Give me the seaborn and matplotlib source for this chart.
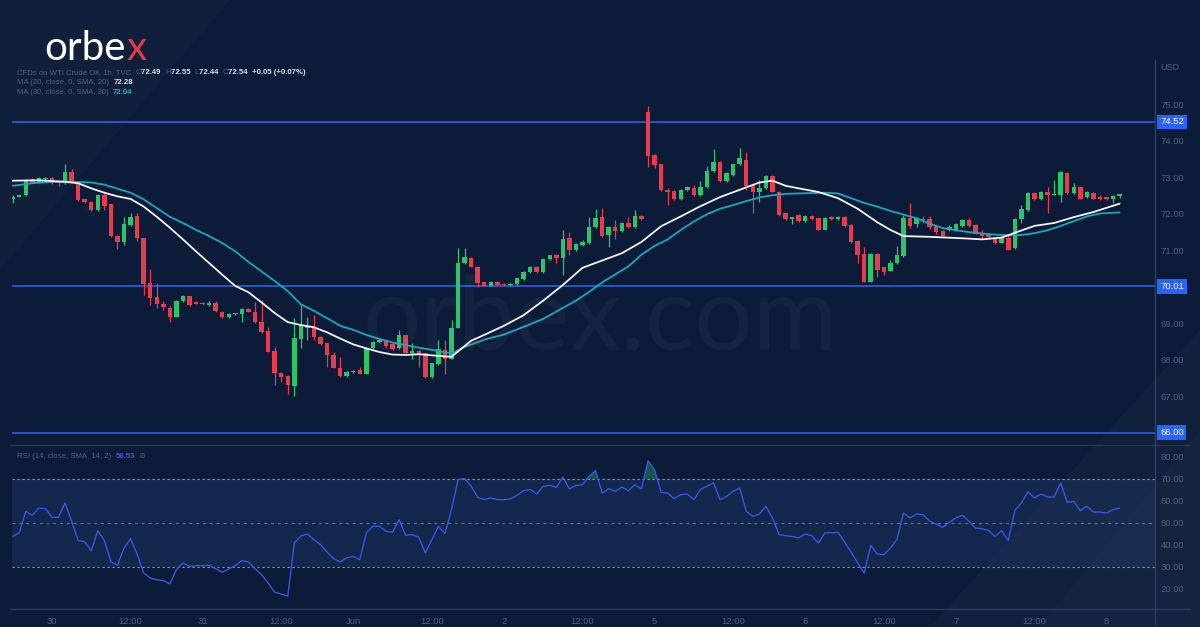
import numpy as np
import pandas as pd
import matplotlib.pyplot as plt
import matplotlib.transforms as mtransforms
from matplotlib.lines import Line2D
from matplotlib.patches import Polygon
import seaborn as sns

# Hourly candles, WTI crude oil CFD (TVC), 30 May - 8 Jun
opens = [72.42, 72.47, 72.52, 72.95, 72.87, 72.95, 72.99, 72.87, 72.84, 73.16,
         72.86, 72.40, 72.33, 72.10, 72.51, 72.26, 71.39, 71.22, 71.70, 71.94,
         71.33, 70.09, 69.71, 69.54, 69.43, 69.18, 69.61, 69.74, 69.58, 69.56,
         69.49, 69.56, 69.31, 69.16, 69.25, 69.25, 69.38, 69.32, 69.04, 68.79,
         68.23, 67.64, 67.55, 67.28, 68.58, 68.86, 68.90, 68.63, 68.45, 68.13,
         67.78, 67.55, 67.66, 67.71, 67.62, 68.31, 68.49, 68.53, 68.44, 68.31,
         68.67, 68.17, 68.23, 68.17, 67.53, 67.88, 68.26, 68.03, 68.88, 70.64,
         70.80, 70.55, 70.12, 70.03, 70.13, 70.08, 70.06, 70.08, 70.21, 70.40,
         70.53, 70.41, 70.75, 70.87, 70.80, 71.33, 71.01, 71.14, 71.19, 71.63,
         71.90, 71.42, 71.65, 71.53, 71.74, 71.63, 71.94, 74.80, 73.61, 73.36,
         72.65, 72.63, 72.40, 72.65, 72.72, 72.51, 72.74, 73.18, 73.42, 72.90,
         73.06, 73.36, 73.49, 72.79, 72.60, 72.70, 73.04, 72.61, 72.01, 71.85,
         71.97, 71.81, 71.94, 71.88, 71.57, 71.92, 71.86, 71.92, 71.69, 71.26,
         70.90, 70.14, 70.91, 70.53, 70.44, 70.64, 70.84, 71.89, 71.72, 71.87,
         71.85, 71.67, 71.54, 71.56, 71.56, 71.67, 71.83, 71.69, 71.46, 71.42,
         71.35, 71.21, 71.35, 71.05, 71.87, 72.10, 72.58, 72.40, 72.61, 72.53,
         72.52, 73.13, 72.56, 72.73, 72.45, 72.58, 72.47, 72.45, 72.40, 72.49]
highs = [72.52, 72.53, 72.95, 72.97, 73.00, 73.01, 73.01, 72.89, 73.37, 73.23,
         72.90, 72.42, 72.35, 72.55, 72.56, 72.28, 71.42, 71.92, 72.03, 72.01,
         71.35, 70.48, 70.09, 69.60, 69.46, 69.63, 69.77, 69.76, 69.60, 69.58,
         69.60, 69.60, 69.33, 69.27, 69.29, 69.42, 69.41, 69.59, 69.65, 68.90,
         68.35, 67.66, 67.57, 69.13, 69.50, 69.18, 69.22, 68.66, 68.47, 68.22,
         68.08, 67.69, 67.72, 67.80, 68.33, 68.51, 68.57, 68.58, 68.46, 68.81,
         68.69, 68.45, 68.26, 68.19, 67.92, 68.54, 68.54, 69.09, 71.05, 71.05,
         70.83, 70.57, 70.14, 70.16, 70.15, 70.10, 70.11, 70.25, 70.43, 70.56,
         70.56, 70.78, 70.88, 70.89, 71.56, 71.51, 71.19, 71.28, 71.92, 72.12,
         72.15, 71.67, 71.83, 71.78, 71.92, 72.10, 71.97, 74.96, 73.63, 73.38,
         72.72, 72.65, 72.67, 72.76, 72.80, 72.90, 73.31, 73.79, 73.44, 73.15,
         73.38, 73.82, 73.70, 72.81, 72.93, 73.06, 73.06, 72.63, 72.03, 71.92,
         71.99, 71.96, 71.96, 71.90, 71.92, 71.94, 71.94, 71.94, 71.71, 71.28,
         71.10, 70.93, 70.93, 70.55, 70.74, 71.12, 71.97, 72.31, 71.91, 71.93,
         71.93, 71.69, 71.56, 71.70, 71.74, 71.85, 71.88, 71.71, 71.55, 71.46,
         71.37, 71.37, 71.46, 71.89, 72.24, 72.60, 72.60, 72.63, 72.74, 72.93,
         73.18, 73.15, 72.85, 72.75, 72.63, 72.60, 72.52, 72.47, 72.52, 72.55]
lows = [72.31, 72.45, 72.50, 72.84, 72.85, 72.94, 72.82, 72.76, 72.82, 72.84,
        72.36, 72.30, 72.08, 72.08, 72.10, 71.37, 71.03, 71.15, 71.68, 71.25,
        69.77, 69.50, 69.41, 69.37, 69.04, 69.16, 69.59, 69.48, 69.52, 69.51,
        69.47, 69.32, 69.14, 69.14, 69.23, 69.04, 69.30, 69.01, 68.73, 68.20,
        67.30, 67.39, 67.07, 67.00, 68.31, 68.54, 68.54, 68.41, 67.80, 67.76,
        67.53, 67.53, 67.64, 67.60, 67.60, 68.29, 68.47, 68.35, 68.26, 68.29,
        68.15, 68.03, 67.80, 67.51, 67.51, 67.86, 67.62, 68.01, 68.86, 70.62,
        70.53, 70.00, 70.01, 70.01, 70.04, 70.03, 70.03, 70.06, 70.19, 70.38,
        70.39, 70.39, 70.73, 70.66, 70.32, 70.87, 70.99, 71.12, 71.17, 71.61,
        71.37, 71.10, 71.30, 71.51, 71.61, 71.61, 71.83, 73.29, 73.25, 72.63,
        72.24, 72.38, 72.38, 72.63, 72.49, 72.49, 72.72, 73.16, 72.88, 72.88,
        73.04, 73.34, 72.65, 72.01, 72.33, 72.68, 72.59, 71.95, 71.83, 71.72,
        71.79, 71.79, 71.83, 71.55, 71.55, 71.84, 71.84, 71.64, 71.20, 70.64,
        70.12, 70.12, 70.27, 70.32, 70.42, 70.62, 70.82, 71.60, 71.65, 71.76,
        71.58, 71.46, 71.38, 71.52, 71.54, 71.65, 71.65, 71.44, 71.32, 71.30,
        71.16, 71.19, 71.00, 71.03, 71.74, 72.08, 72.38, 72.38, 72.01, 72.51,
        72.33, 72.54, 72.54, 72.40, 72.43, 72.40, 72.38, 72.38, 72.29, 72.44]
closes = [72.47, 72.51, 72.91, 72.86, 72.99, 72.99, 72.84, 72.84, 73.16, 72.86,
          72.38, 72.32, 72.10, 72.51, 72.22, 71.39, 71.22, 71.72, 71.92, 71.33,
          70.07, 69.68, 69.53, 69.45, 69.18, 69.61, 69.74, 69.50, 69.54, 69.53,
          69.56, 69.34, 69.16, 69.25, 69.27, 69.40, 69.32, 69.03, 68.75, 68.22,
          67.64, 67.53, 67.30, 68.60, 68.95, 68.92, 68.63, 68.43, 68.13, 67.78,
          67.55, 67.67, 67.70, 67.62, 68.31, 68.49, 68.55, 68.37, 68.28, 68.67,
          68.17, 68.24, 68.13, 67.53, 67.90, 68.28, 68.03, 68.88, 70.66, 70.82,
          70.55, 70.09, 70.03, 70.14, 70.06, 70.05, 70.08, 70.23, 70.41, 70.55,
          70.41, 70.76, 70.87, 70.80, 71.30, 71.01, 71.17, 71.22, 71.63, 71.90,
          71.39, 71.65, 71.53, 71.76, 71.63, 71.95, 71.85, 73.59, 73.34, 72.65,
          72.61, 72.40, 72.65, 72.74, 72.51, 72.74, 73.18, 73.42, 72.90, 73.13,
          73.36, 73.52, 72.76, 72.60, 72.70, 73.04, 72.61, 71.97, 71.85, 71.90,
          71.81, 71.94, 71.85, 71.57, 71.90, 71.86, 71.92, 71.66, 71.22, 70.87,
          70.14, 70.91, 70.47, 70.41, 70.64, 70.87, 71.89, 71.66, 71.89, 71.83,
          71.65, 71.51, 71.40, 71.65, 71.72, 71.83, 71.67, 71.46, 71.39, 71.36,
          71.21, 71.35, 71.02, 71.87, 72.12, 72.58, 72.40, 72.61, 72.53, 72.55,
          73.16, 72.56, 72.73, 72.42, 72.61, 72.42, 72.42, 72.40, 72.50, 72.54]

# Moving averages (bar index, value)
ma20_bars = [0, 4, 8, 10, 12, 14, 16, 18, 20, 22, 24, 26, 28, 30, 32, 34, 36, 38, 40, 42,
             44, 46, 48, 50, 52, 54, 56, 58, 60, 62, 64, 66, 67, 70, 72, 75, 78, 81, 84, 87,
             90, 93, 96, 99, 102, 105, 108, 111, 114, 116, 118, 120, 123, 126, 129, 132, 134,
             136, 140, 145, 148, 151, 153, 156, 159, 162, 165, 169]
ma20_vals = [72.91, 72.92, 72.88, 72.84, 72.70, 72.58, 72.48, 72.41, 72.20, 71.92,
             71.62, 71.30, 70.97, 70.65, 70.33, 70.02, 69.85, 69.57, 69.28, 69.03,
             68.95, 68.89, 68.75, 68.58, 68.42, 68.31, 68.21, 68.14, 68.13, 68.15,
             68.12, 68.09, 68.08, 68.52, 68.68, 68.93, 69.22, 69.62, 70.05, 70.52,
             70.72, 70.92, 71.23, 71.66, 71.93, 72.21, 72.46, 72.66, 72.86, 72.91,
             72.77, 72.70, 72.60, 72.43, 72.14, 71.77, 71.56, 71.39, 71.37, 71.33,
             71.30, 71.35, 71.48, 71.67, 71.75, 71.91, 72.05, 72.28]
ma30_bars = [0, 3, 6, 9, 12, 14, 16, 18, 20, 22, 24, 26, 28, 30, 32, 34, 36, 38, 40, 42,
             44, 46, 48, 50, 52, 54, 56, 58, 60, 62, 64, 67, 69, 72, 75, 78, 81, 84, 86, 88,
             90, 92, 94, 96, 98, 100, 102, 104, 106, 108, 110, 112, 114, 116, 118, 120, 122,
             124, 126, 128, 130, 132, 134, 136, 138, 140, 142, 144, 146, 148, 150, 152, 154,
             156, 158, 160, 162, 164, 166, 168, 169]
ma30_vals = [72.77, 72.84, 72.88, 72.88, 72.86, 72.80, 72.69, 72.58, 72.40, 72.16,
             71.92, 71.75, 71.56, 71.39, 71.20, 70.97, 70.68, 70.42, 70.16, 69.88,
             69.52, 69.34, 69.14, 68.93, 68.82, 68.68, 68.57, 68.47, 68.40, 68.33,
             68.27, 68.17, 68.35, 68.55, 68.69, 68.90, 69.12, 69.42, 69.62, 69.86,
             70.12, 70.34, 70.56, 70.88, 71.12, 71.30, 71.56, 71.79, 71.99, 72.14,
             72.24, 72.35, 72.45, 72.51, 72.55, 72.56, 72.57, 72.58, 72.56, 72.43,
             72.30, 72.20, 72.08, 71.98, 71.88, 71.73, 71.61, 71.55, 71.50, 71.46,
             71.43, 71.41, 71.42, 71.47, 71.55, 71.67, 71.80, 71.93, 72.01, 72.03, 72.04]

# RSI (14) per bar
rsi_vals = [43.9, 45.5, 55.3, 53.5, 56.8, 56.5, 52.6, 52.6, 59.1, 50.8,
            42.1, 41.4, 37.4, 46.5, 42.0, 32.3, 30.8, 38.6, 42.9, 35.9,
            27.3, 25.0, 24.2, 23.8, 22.3, 28.8, 31.8, 30.3, 30.6, 30.6,
            30.8, 29.2, 27.6, 29.1, 30.6, 32.9, 32.3, 29.2, 26.5, 22.7,
            18.6, 17.7, 16.7, 40.9, 44.1, 45.0, 42.4, 40.2, 36.8, 33.8,
            32.3, 34.1, 34.8, 33.3, 45.5, 48.5, 48.5, 46.2, 45.8, 51.5,
            44.4, 44.7, 43.5, 36.4, 42.4, 48.5, 45.2, 56.1, 69.7, 70.2,
            66.7, 61.7, 60.6, 61.4, 60.6, 60.6, 60.9, 62.6, 64.7, 65.2,
            63.2, 66.7, 67.1, 66.2, 70.8, 65.5, 67.1, 67.4, 71.2, 73.8,
            63.6, 65.6, 64.4, 66.4, 64.7, 67.4, 65.5, 78.3, 74.2, 63.9,
            63.6, 61.1, 62.9, 63.2, 60.6, 65.2, 66.7, 68.2, 60.6, 62.1,
            64.4, 65.9, 55.3, 53.0, 54.1, 57.6, 52.3, 44.7, 44.2, 43.9,
            43.2, 45.0, 44.2, 40.9, 45.5, 45.5, 45.8, 41.4, 36.8, 31.8,
            27.3, 39.7, 35.9, 35.6, 38.6, 42.4, 54.5, 52.3, 54.1, 53.8,
            50.8, 49.5, 48.0, 50.3, 52.3, 53.5, 50.8, 47.7, 47.4, 46.5,
            43.9, 46.5, 42.0, 55.6, 59.1, 64.1, 61.4, 63.2, 61.8, 61.8,
            68.2, 59.4, 59.8, 55.6, 57.6, 55.0, 55.0, 54.5, 56.1, 56.8]

level_prices = [74.52, 70.01, 66.00]
level_labels = ['74.52', '70.01', '66.00']
price_ticks = [67, 68, 69, 71, 72, 73, 74, 75]
rsi_ticks = [20, 30, 40, 50, 60, 70, 80]
tick_bars = [6, 18, 29, 41, 52, 64, 75, 87, 98, 110, 121, 133, 144, 156, 167]
tick_labels = ['30', '12:00', '31', '12:00', 'Jun', '12:00', '2', '12:00',
               '5', '12:00', '6', '12:00', '7', '12:00', '8']

df = pd.DataFrame({'Open': opens, 'High': highs, 'Low': lows, 'Close': closes, 'RSI': rsi_vals})
df['Bar'] = np.arange(len(df))
df['Up'] = df['Close'] >= df['Open']

# colours
BG = '#0c1c38'
GREEN = '#2bc46a'
RED = '#ea3a4c'
LEVEL = '#2f65f5'
GREY = '#52617c'
LINE = '#23365a'

sns.set_theme(style='dark', rc={'axes.facecolor': 'none', 'figure.facecolor': BG})
plt.rcParams['font.family'] = ['Liberation Sans', 'DejaVu Sans']

W, H = 1200, 627
fig = plt.figure(figsize=(12, 6.27), dpi=100)
fig.patch.set_facecolor(BG)

# faint decorative shapes in the background
fig.add_artist(Polygon([(0, 1), (230 / W, 1), (0, 1 - 270 / H)], closed=True,
                       transform=fig.transFigure, fc='white', alpha=0.018, ec='none', zorder=0))
fig.add_artist(Polygon([(930 / W, 0), (1, 0), (1, 1 - 330 / H)], closed=True,
                       transform=fig.transFigure, fc='white', alpha=0.022, ec='none', zorder=0))
fig.add_artist(Polygon([(1040 / W, 0), (1, 0), (1, 1 - 430 / H)], closed=True,
                       transform=fig.transFigure, fc='white', alpha=0.015, ec='none', zorder=0))

x_left, x_right = 12 / W, 1155 / W
ax = fig.add_axes([x_left, 1 - 445 / H, x_right - x_left, 385 / H])
ax2 = fig.add_axes([x_left, 1 - 609 / H, x_right - x_left, 164 / H], sharex=ax)

# watermark
fig.text(0.5, 1 - 320 / H, 'orbex.com', fontsize=74, color='white', alpha=0.035,
         ha='center', va='center', family=['Lato', 'DejaVu Sans'], zorder=0)

# candles
colors = np.where(df['Up'], GREEN, RED)
body_low = df[['Open', 'Close']].min(axis=1)
body_h = (df['Close'] - df['Open']).abs().clip(lower=0.025)
ax.vlines(df['Bar'], df['Low'], df['High'], colors=colors, lw=0.9, zorder=3)
ax.bar(df['Bar'], body_h, bottom=body_low, width=0.68, color=colors, lw=0, zorder=4)

# moving averages
sns.lineplot(x=ma30_bars, y=ma30_vals, ax=ax, color='#1ba7bb', lw=1.3, zorder=5)
sns.lineplot(x=ma20_bars, y=ma20_vals, ax=ax, color='#f3f3f5', lw=1.3, zorder=6)

# horizontal levels with price tags
tag = mtransforms.blended_transform_factory(ax.transAxes, ax.transData)
for p, lab in zip(level_prices, level_labels):
    ax.axhline(p, color=LEVEL, lw=1.1, zorder=2)
    ax.text(1.0044, p, lab, transform=tag, ha='left', va='center', color='white',
            fontsize=6.8, clip_on=False, zorder=10,
            bbox=dict(boxstyle='square,pad=0.3', fc='#2962ff', ec='none'))

ax.set_xlim(-0.1, 174.4)
ax.set_ylim(65.66, 76.22)
ax.yaxis.tick_right()
ax.set_yticks(price_ticks)
ax.set_yticklabels([f'{p:.2f}' for p in price_ticks])
ax.tick_params(axis='y', length=0, pad=4, labelsize=6.8, labelcolor=GREY)
ax.tick_params(axis='x', bottom=False, labelbottom=False)
ax.set_xlabel('')
ax.set_ylabel('')
ax.grid(False)
for s in ax.spines.values():
    s.set_visible(False)
ax.text(1.0044, 1 - 8 / 385, 'USD', transform=ax.transAxes, ha='left', va='center',
        color=GREY, fontsize=6.5)

# RSI panel
ax2.axhspan(30, 70, color='#2b4683', alpha=0.28, lw=0, zorder=1)
ax2.axhline(70, color='#8e9ab3', lw=0.8, ls=(0, (2, 2.5)), zorder=2)
ax2.axhline(50, color='#6f7c98', lw=0.7, ls=(0, (3, 4)), zorder=2)
ax2.axhline(30, color='#8e9ab3', lw=0.8, ls=(0, (2, 2.5)), zorder=2)
rsi = df['RSI'].to_numpy()
ax2.fill_between(df['Bar'], 70, rsi, where=rsi > 70, interpolate=True,
                 color='#2bc46a', alpha=0.35, lw=0, zorder=2)
sns.lineplot(data=df, x='Bar', y='RSI', ax=ax2, color='#3b5bf0', lw=0.9, zorder=4)
ax2.set_ylim(10.9, 85.45)
ax2.yaxis.tick_right()
ax2.set_yticks(rsi_ticks)
ax2.set_yticklabels([f'{v:.2f}' for v in rsi_ticks])
ax2.tick_params(axis='y', length=0, pad=4, labelsize=6.8, labelcolor=GREY)
ax2.set_xticks(tick_bars)
ax2.set_xticklabels(tick_labels)
ax2.tick_params(axis='x', length=0, pad=6, labelsize=6.8, labelcolor=GREY)
ax2.set_xlabel('')
ax2.set_ylabel('')
ax2.grid(False)
for s in ax2.spines.values():
    s.set_visible(False)

# panel separators and axis lines
fig.add_artist(Line2D([0.008, 0.992], [1 - 445 / H] * 2, color=LINE, lw=1.0))
fig.add_artist(Line2D([0.008, 0.992], [1 - 609 / H] * 2, color='#2b3f62', lw=1.0))
fig.add_artist(Line2D([x_right, x_right], [0, 1 - 60 / H], color='#2b3f62', lw=1.0))

# logo
renderer = fig.canvas.get_renderer()
logo = fig.text(44 / W, 1 - 60 / H, 'orbe', color='white', fontsize=29, va='baseline',
                family=['Lato', 'DejaVu Sans'], fontweight='normal')
bb = logo.get_window_extent(renderer)
fig.text((bb.x1 + 1) / W, 1 - 60 / H, 'x', color='#e8394b', fontsize=29, va='baseline',
         family=['Lato', 'DejaVu Sans'], fontweight='normal')


# header rows: pieces of text placed one after another
def write_row(x_px, y_px, parts, size=5.6):
    x = x_px
    for s, color, weight in parts:
        t = fig.text(x / W, 1 - y_px / H, s, color=color, fontsize=size,
                     fontweight=weight, ha='left', va='center')
        x += t.get_window_extent(renderer).width


VAL = '#d9dee9'
write_row(17, 73, [('CFDs on WTI Crude Oil, 1h, TVC  ', GREY, 'normal'),
                   ('O', GREY, 'normal'), ('72.49  ', VAL, 'bold'),
                   ('H', GREY, 'normal'), ('72.55  ', VAL, 'bold'),
                   ('L', GREY, 'normal'), ('72.44  ', VAL, 'bold'),
                   ('C', GREY, 'normal'), ('72.54  ', VAL, 'bold'),
                   ('+0.05 (+0.07%)', VAL, 'bold')])
write_row(17, 83, [('MA (20, close, 0, SMA, 20)  ', GREY, 'normal'), ('72.28', VAL, 'bold')])
write_row(17, 93, [('MA (30, close, 0, SMA, 30)  ', GREY, 'normal'), ('72.04', '#1fb3c8', 'bold')])
write_row(17, 457, [('RSI (14, close, SMA, 14, 2)  ', GREY, 'normal'), ('56.53', '#3b5bf0', 'bold'),
                    ('  ⊘', GREY, 'normal')])

fig.savefig('out.png', dpi=100, facecolor=BG)
